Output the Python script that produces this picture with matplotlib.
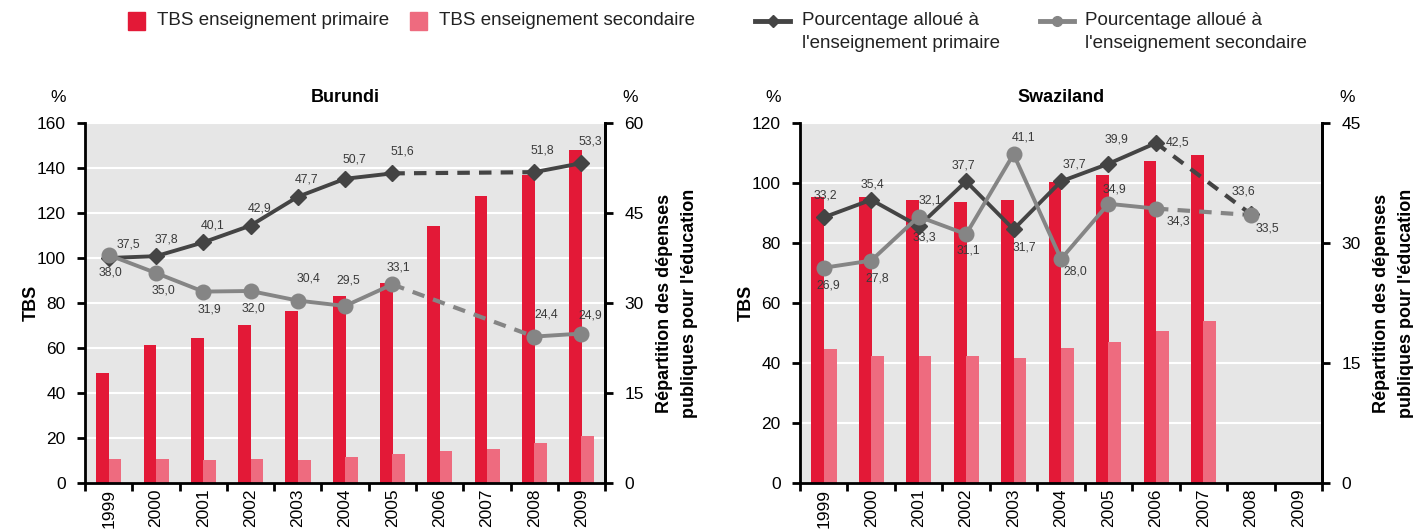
import numpy as np
import matplotlib
matplotlib.use("Agg")
import matplotlib.pyplot as plt
from matplotlib.patches import Rectangle
from matplotlib.lines import Line2D

plt.rcParams['font.family'] = ['Liberation Sans', 'DejaVu Sans']

years = ['1999', '2000', '2001', '2002', '2003', '2004', '2005', '2006', '2007', '2008', '2009']
nan = np.nan

# Burundi
bur_tbs_prim = [49, 61.5, 64.5, 70, 76.5, 83, 89, 114, 127.5, 137, 148]
bur_tbs_sec = [10.8, 10.8, 10.3, 10.8, 10.3, 11.7, 13.0, 14.3, 15.2, 17.9, 21.0]
bur_pct_prim = [37.5, 37.8, 40.1, 42.9, 47.7, 50.7, 51.6, nan, nan, 51.8, 53.3]
bur_pct_sec = [38.0, 35.0, 31.9, 32.0, 30.4, 29.5, 33.1, nan, nan, 24.4, 24.9]

# Swaziland
swz_tbs_prim = [95.3, 95.2, 94.3, 93.6, 94.3, 100.2, 102.8, 107.3, 109.4, nan, nan]
swz_tbs_sec = [44.6, 42.4, 42.4, 42.4, 41.7, 45.0, 47.0, 50.6, 54.0, nan, nan]
swz_pct_prim = [33.2, 35.4, 32.1, 37.7, 31.7, 37.7, 39.9, 42.5, nan, 33.6, nan]
swz_pct_sec = [26.9, 27.8, 33.3, 31.1, 41.1, 28.0, 34.9, 34.3, nan, 33.5, nan]

# label offsets in pixels (dx, dy) for each point
bur_off_prim = [(20, 13), (10, 17), (9, 17), (9, 17), (9, 17), (9, 19), (10, 22), None, None, (8, 22), (9, 22)]
bur_off_sec = [(2, -18), (7, -18), (6, -18), (3, -18), (11, 22), (3, 25), (6, 17), None, None, (12, 22), (9, 18)]
swz_off_prim = [(2, 22), (1, 15), (12, 26), (-3, 16), (11, -18), (13, 17), (8, 24), (22, 0), None, (-7, 23), None]
swz_off_sec = [(5, -18), (6, -18), (6, -21), (2, -16), (10, 17), (14, -13), (6, 14), (22, -13), None, (17, -14), None]

legend_labels = ['TBS enseignement primaire', 'TBS enseignement secondaire',
                 "Pourcentage alloué à\nl'enseignement primaire",
                 "Pourcentage alloué à\nl'enseignement secondaire"]

C_PRIM = '#e31937'
C_SEC = '#ee6b7f'
L_PRIM = '#444444'
L_SEC = '#858585'
BG = '#e6e6e6'
W, H = 1413, 531


def draw_line(ax, x, vals, color, marker, msize, offsets):
    vals = np.array(vals, dtype=float)
    ax.plot(x, vals, color=color, lw=2.8, marker=marker, ms=msize, zorder=4)
    ok = np.where(~np.isnan(vals))[0]
    for a, b in zip(ok[:-1], ok[1:]):
        if b - a > 1:
            ax.plot([x[a], x[b]], [vals[a], vals[b]], color=color, lw=3,
                    dashes=(3, 2.2), zorder=3)
    for i, v in enumerate(vals):
        if np.isnan(v) or offsets[i] is None:
            continue
        ax.annotate(f"{v:.1f}".replace('.', ','), (x[i], v), xytext=offsets[i],
                    textcoords='offset pixels', ha='center', va='center',
                    fontsize=8.8, color='#3a3a3a', zorder=6)


def panel(rect, title, prim, sec, pprim, psec, oprim, osec, ymax, ystep, y2max):
    ax = fig.add_axes(rect)
    x = np.arange(len(years))
    ax.set_facecolor(BG)
    w = 0.27
    ax.bar(x - 0.125, prim, w, color=C_PRIM, zorder=2)
    ax.bar(x + 0.135, sec, w, color=C_SEC, zorder=2)
    ax.set_xlim(-0.5, len(years) - 0.5)
    ax.set_ylim(0, ymax)
    ax.set_yticks(np.arange(0, ymax + 1, ystep))
    ax.grid(axis='y', color='white', lw=1.5, zorder=1)
    ax.set_axisbelow(True)
    ax.set_xticks(x)
    ax.set_xticklabels(years, rotation=90, fontsize=12.5)
    ax.set_xticks(np.arange(-0.5, len(years)), minor=True)
    ax.tick_params(axis='x', which='major', length=0, pad=4)
    ax.tick_params(axis='x', which='minor', length=6, width=2, direction='out')
    ax.tick_params(axis='y', length=6, width=2, labelsize=12.5, pad=8)
    ax.spines['top'].set_visible(False)
    for s in ['left', 'bottom', 'right']:
        ax.spines[s].set_linewidth(2)
    ax.set_ylabel('TBS', fontsize=13, fontweight='bold', labelpad=-2)
    ax.set_title(title, fontsize=13, fontweight='bold', pad=15)
    ax.text(-0.052, 1.07, '%', transform=ax.transAxes, fontsize=12.5, ha='center', va='center')

    ax2 = ax.twinx()
    ax2.set_ylim(0, y2max)
    ax2.set_yticks(np.arange(0, y2max + 1, 15))
    ax2.tick_params(axis='y', length=6, width=2, labelsize=12.5, pad=8)
    ax2.spines['top'].set_visible(False)
    ax2.spines['right'].set_linewidth(2)
    ax2.set_ylabel("Répartition des dépenses\npubliques pour l'éducation",
                   fontsize=13, fontweight='bold', labelpad=9, linespacing=1.6)
    ax2.text(1.048, 1.07, '%', transform=ax.transAxes, fontsize=12.5, ha='center', va='center')
    draw_line(ax2, x, pprim, L_PRIM, 'D', 8, oprim)
    draw_line(ax2, x, psec, L_SEC, 'o', 10.5, osec)
    return ax


fig = plt.figure(figsize=(14.13, 5.31), dpi=100)

panel([0.0602, 0.0904, 0.368, 0.678], 'Burundi', bur_tbs_prim, bur_tbs_sec,
      bur_pct_prim, bur_pct_sec, bur_off_prim, bur_off_sec, 160, 20, 60)
panel([0.5662, 0.0904, 0.3694, 0.678], 'Swaziland', swz_tbs_prim, swz_tbs_sec,
      swz_pct_prim, swz_pct_sec, swz_off_prim, swz_off_sec, 120, 20, 45)

# legend drawn by hand so multi-line entries align on their first line
def fx(p):
    return p / W


def fy(p):
    return 1 - p / H


for x0, c in [(128, C_PRIM), (410, C_SEC)]:
    fig.add_artist(Rectangle((fx(x0), fy(30)), fx(17), 18 / H, color=c,
                             transform=fig.transFigure))
fig.add_artist(Line2D([fx(755), fx(790)], [fy(21), fy(21)], color=L_PRIM, lw=3.5,
                      transform=fig.transFigure))
fig.add_artist(Line2D([fx(772.5)], [fy(21)], color=L_PRIM, marker='D', ms=6,
                      transform=fig.transFigure))
fig.add_artist(Line2D([fx(1040), fx(1074)], [fy(21), fy(21)], color=L_SEC, lw=3.5,
                      transform=fig.transFigure))
fig.add_artist(Line2D([fx(1057)], [fy(21)], color=L_SEC, marker='o', ms=7,
                      transform=fig.transFigure))
for x0, lab in zip([157, 439, 802, 1085], legend_labels):
    fig.text(fx(x0), fy(12), lab, fontsize=13.5, ha='left', va='top',
             color='#222222', linespacing=1.45)

fig.savefig('out.png', dpi=100)
